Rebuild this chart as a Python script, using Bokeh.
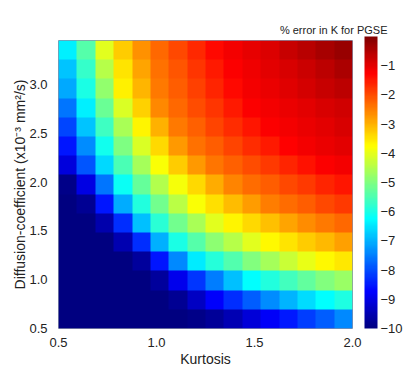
import numpy as np
from bokeh.plotting import figure
from bokeh.models import (Range1d, LinearColorMapper, ColorBar, FixedTicker,
                          PrintfTickFormatter, Title)
from bokeh.embed import file_html
from bokeh.resources import INLINE

# ---- data ----
kurtosis_span = (0.5, 2.0)          # x extent of the map
diffusion_span = (0.5, 3.45)        # y extent of the map (x10^-3 mm^2/s)
# % error in K, rows from bottom (low D) to top (high D), 16 kurtosis columns each
error_rows = [
    [-10, -10, -10, -10, -10, -10, -10, -9.9, -9.75, -9.46, -9.14, -8.82, -8.49, -8.16, -7.82, -7.4],
    [-10, -10, -10, -10, -10, -10, -9.8, -9.3, -8.77, -8.3, -7.83, -7.38, -6.99, -6.6, -6.22, -5.95],
    [-10, -10, -10, -10, -10, -9.7, -8.93, -8.21, -7.52, -6.87, -6.24, -5.92, -5.6, -5.28, -4.98, -4.75],
    [-10, -10, -10, -10, -9.7, -8.55, -7.41, -6.43, -5.88, -5.43, -4.99, -4.63, -4.29, -3.96, -3.69, -3.53],
    [-10, -10, -10, -9.5, -8.31, -7.0, -6.0, -5.42, -4.88, -4.46, -4.04, -3.69, -3.48, -3.27, -3.06, -2.85],
    [-10, -10, -9.55, -8.31, -6.84, -5.84, -5.15, -4.59, -4.05, -3.64, -3.39, -3.14, -2.89, -2.65, -2.44, -2.28],
    [-10, -9.8, -8.53, -7.06, -5.9, -5.12, -4.45, -3.8, -3.45, -3.12, -2.8, -2.49, -2.32, -2.16, -1.99, -1.83],
    [-9.9, -9.02, -7.59, -6.17, -5.27, -4.51, -3.83, -3.38, -2.96, -2.54, -2.34, -2.16, -1.98, -1.8, -1.62, -1.47],
    [-9.1, -7.9, -6.61, -5.54, -4.63, -3.79, -3.27, -2.77, -2.4, -2.21, -2.01, -1.81, -1.62, -1.42, -1.24, -1.15],
    [-8.54, -7.35, -6.09, -5.02, -4.12, -3.38, -2.77, -2.38, -2.15, -1.93, -1.71, -1.49, -1.27, -1.17, -1.08, -0.99],
    [-8.06, -6.82, -5.64, -4.6, -3.67, -3.0, -2.45, -2.2, -1.95, -1.7, -1.45, -1.23, -1.15, -1.06, -0.98, -0.89],
    [-7.6, -6.37, -5.2, -4.11, -3.29, -2.6, -2.28, -2.02, -1.76, -1.5, -1.25, -1.16, -1.07, -0.98, -0.89, -0.8],
    [-7.08, -5.99, -4.81, -3.63, -3.01, -2.45, -2.18, -1.9, -1.62, -1.34, -1.17, -1.06, -0.95, -0.84, -0.73, -0.62],
    [-6.8, -5.71, -4.49, -3.5, -2.88, -2.38, -2.09, -1.79, -1.49, -1.22, -1.11, -0.99, -0.88, -0.76, -0.62, -0.45],
    [-6.4, -5.4, -4.06, -3.28, -2.68, -2.28, -1.96, -1.65, -1.33, -1.15, -1.03, -0.9, -0.74, -0.58, -0.42, -0.25],
]
x_ticks = [0.5, 1.0, 1.5, 2.0]
y_ticks = [0.5, 1.0, 1.5, 2.0, 2.5, 3.0]
cbar_ticks = [-10, -9, -8, -7, -6, -5, -4, -3, -2, -1]
cbar_limits = (-10, 0)

# ---- jet colormap ----
def jet(v):
    r = min(max(min(4 * v - 1.5, -4 * v + 4.5), 0), 1)
    g = min(max(min(4 * v - 0.5, -4 * v + 3.5), 0), 1)
    b = min(max(min(4 * v + 0.5, -4 * v + 2.5), 0), 1)
    return "#%02x%02x%02x" % (int(round(r * 255)), int(round(g * 255)), int(round(b * 255)))

palette = [jet(i / 255) for i in range(256)]
mapper = LinearColorMapper(palette=palette, low=cbar_limits[0], high=cbar_limits[1])

FONT = "Liberation Sans"
TXT = "#222222"

p = figure(width=404, height=369,
           x_range=Range1d(*kurtosis_span), y_range=Range1d(*diffusion_span),
           output_backend="svg", toolbar_location=None,
           min_border_left=58, min_border_right=52,
           min_border_top=40, min_border_bottom=37)
p.background_fill_color = "white"
p.border_fill_color = "white"
p.grid.visible = False
p.outline_line_color = "#8890aa"
p.outline_line_width = 1

img = np.array(error_rows, dtype=float)
p.image(image=[img], x=kurtosis_span[0], y=diffusion_span[0],
        dw=kurtosis_span[1] - kurtosis_span[0],
        dh=diffusion_span[1] - diffusion_span[0],
        color_mapper=mapper)

for ax, ticks in ((p.xaxis, x_ticks), (p.yaxis, y_ticks)):
    ax.ticker = FixedTicker(ticks=ticks)
    ax.formatter = PrintfTickFormatter(format="%.1f")
    ax.major_tick_line_color = None
    ax.minor_tick_line_color = None
    ax.axis_line_color = None
    ax.major_label_text_font = FONT
    ax.major_label_text_font_size = "13px"
    ax.major_label_text_color = TXT
    ax.axis_label_text_font = FONT
    ax.axis_label_text_font_size = "14px"
    ax.axis_label_text_font_style = "normal"
    ax.axis_label_text_color = TXT

p.yaxis.major_label_standoff = 5
p.yaxis.axis_label = "Diffusion-coefficient (x10⁻³ mm²/s)"
p.yaxis.axis_label_standoff = -2
p.xaxis.major_label_standoff = 3
p.xaxis.axis_label = "Kurtosis"
p.xaxis.axis_label_standoff = 1

p.add_layout(Title(text="% error in K for PGSE", align="right", offset=-35,
                   text_font=FONT, text_font_size="11px", text_color=TXT,
                   text_font_style="normal", standoff=9), "above")

cb = ColorBar(color_mapper=mapper, ticker=FixedTicker(ticks=cbar_ticks),
              location=(306, 0), width=13, height=292, padding=0, margin=0,
              major_tick_line_color=None, minor_tick_line_color=None,
              bar_line_color=None, border_line_color=None,
              background_fill_alpha=0,
              major_label_text_font=FONT, major_label_text_font_size="13px",
              major_label_text_color=TXT, label_standoff=3)
p.add_layout(cb, "center")

open("out.html", "w").write(file_html(p, INLINE))
